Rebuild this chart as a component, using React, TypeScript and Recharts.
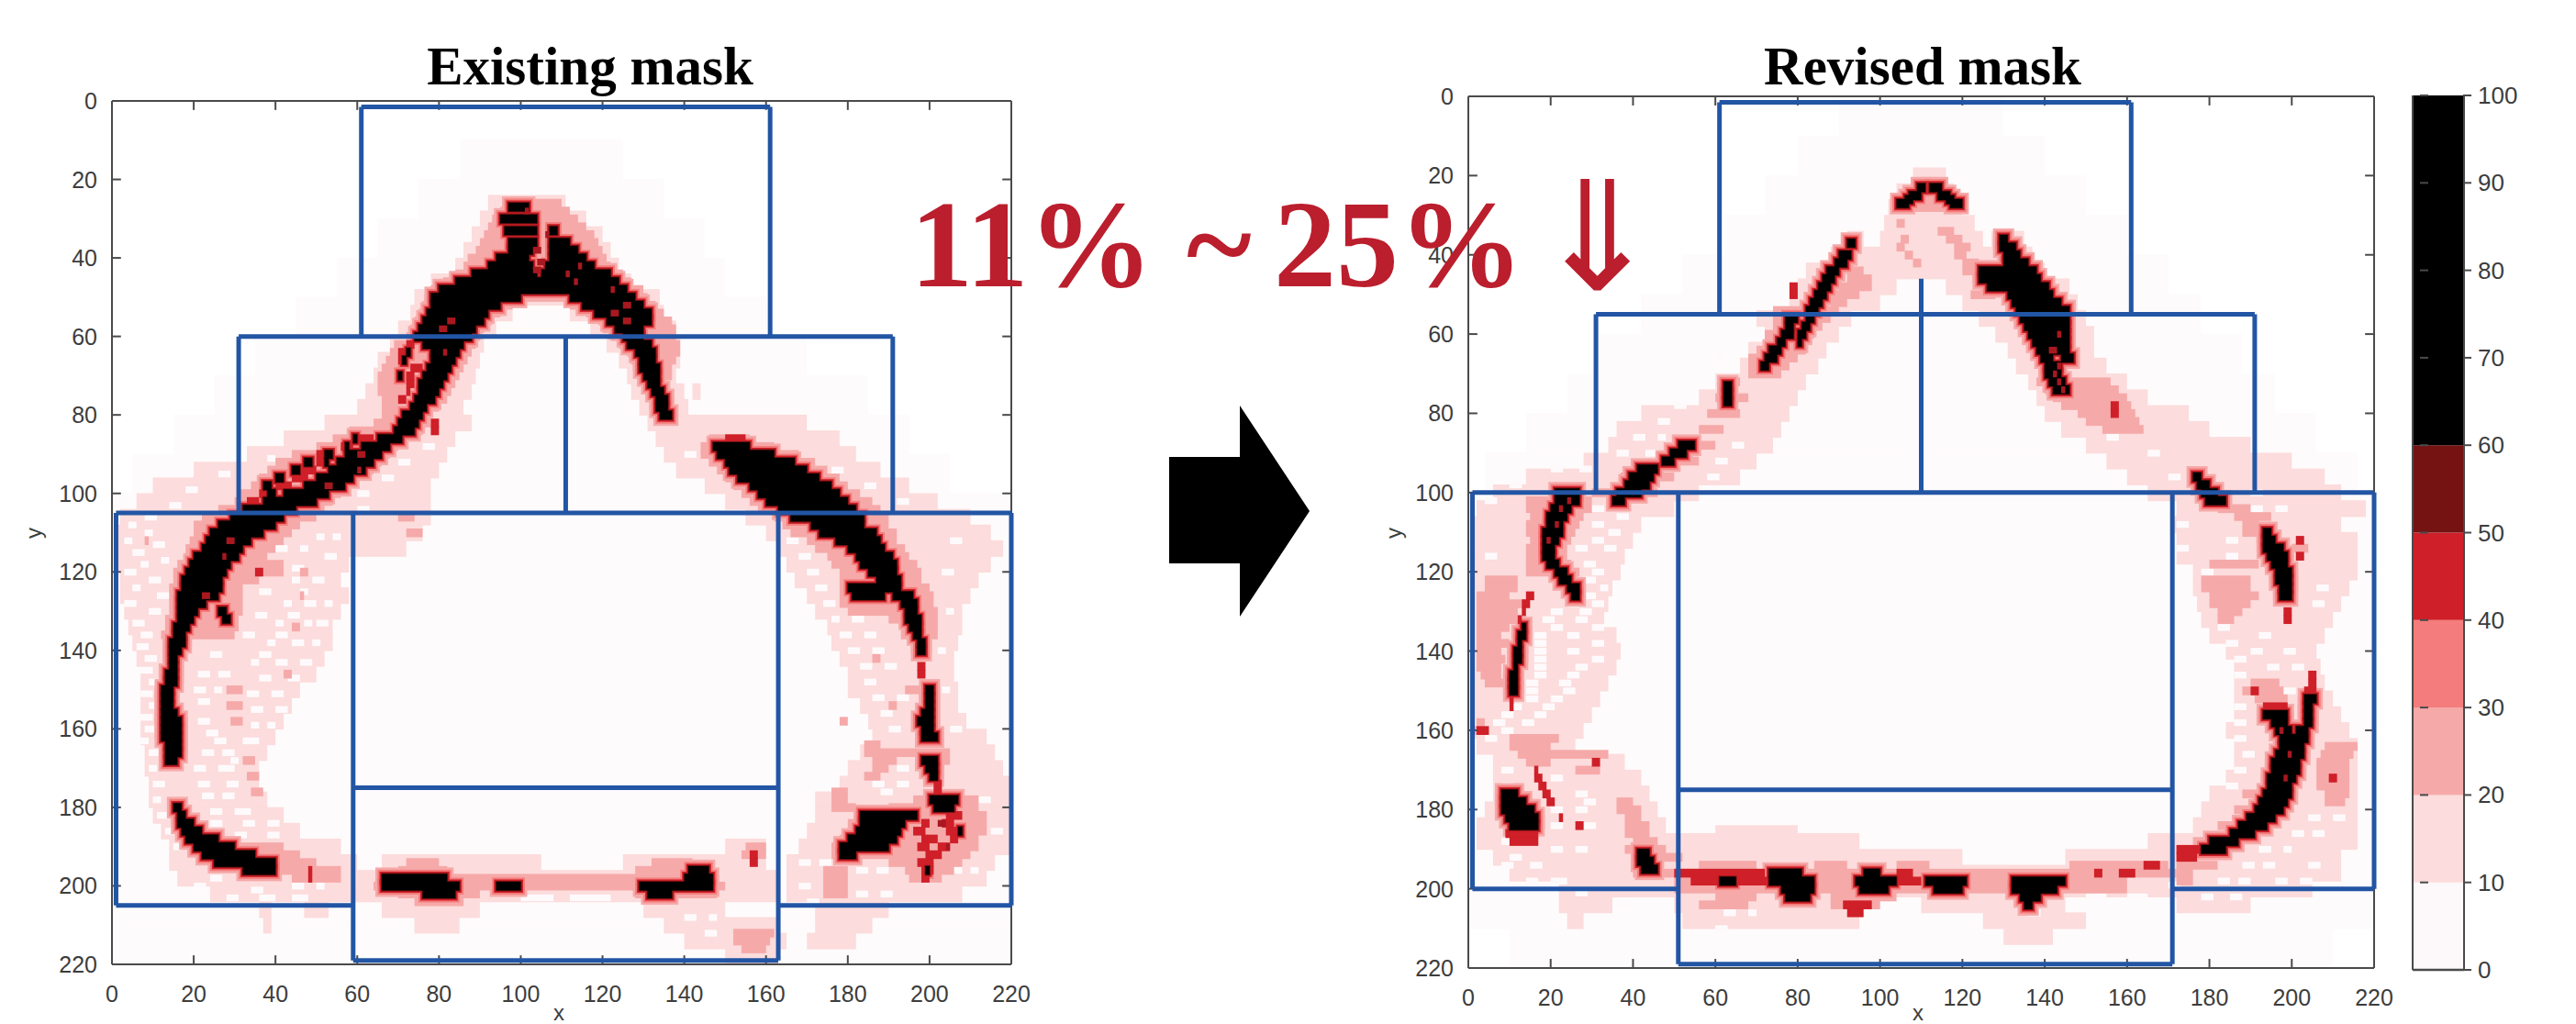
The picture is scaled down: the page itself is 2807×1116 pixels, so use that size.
import React from 'react';
import { ScatterChart, Scatter, XAxis, YAxis, BarChart, Bar } from 'recharts';

type Row = [number, number, number];
type Seg = [number, number, number, number];

const axisTicks = [0, 20, 40, 60, 80, 100, 120, 140, 160, 180, 200, 220];
const colorTicks = [0, 10, 20, 30, 40, 50, 60, 70, 80, 90, 100];
const colorBandValues = [10, 10, 10, 10, 10, 10, 40];
const colorBandFills = ['#FDF8FA', '#FCDCDC', '#F6A9A9', '#F47C7C', '#CF1F28', '#751212', '#000000'];

// every row is [y, xStart, xEnd] in data units
const leftFan: Row[] = [[15, 85, 125], [25, 75, 135], [35, 65, 145], [45, 55, 150], [55, 45, 160], [65, 35, 170], [75, 25, 185], [85, 15, 195], [95, 5, 205], [105, 0, 220], [115, 0, 220], [125, 0, 220], [135, 0, 220], [145, 0, 220], [155, 0, 220], [165, 0, 220], [175, 0, 220], [185, 0, 220], [195, 0, 220], [205, 0, 220], [215, 0, 220]];
const rightFan: Row[] = [[5, 90, 130], [15, 80, 140], [25, 72, 150], [35, 62, 160], [45, 52, 170], [55, 42, 178], [65, 32, 188], [75, 24, 196], [85, 14, 206], [95, 4, 216], [105, 0, 220], [115, 0, 220], [125, 0, 220], [135, 0, 220], [145, 0, 220], [155, 0, 220], [165, 0, 220], [175, 0, 220], [185, 0, 220], [195, 0, 220], [205, 0, 220], [215, 10, 210]];

const leftLight: Row[] = [
  [26, 92, 111], [30, 90, 116], [34, 88, 120], [38, 86, 122], [42, 84, 124], [46, 78, 127], [50, 74, 134],
  [54, 73, 98], [54, 112, 135], [58, 70, 94], [58, 117, 138], [62, 68, 91], [62, 121, 139], [66, 65, 90], [66, 124, 139],
  [70, 64, 89], [70, 126, 138], [74, 62, 88], [74, 127, 140], [74, 142, 144], [78, 60, 86], [78, 129, 141],
  [82, 52, 88], [82, 131, 170], [86, 42, 84], [86, 133, 178], [90, 33, 82], [90, 135, 182], [94, 20, 80], [94, 138, 188],
  [98, 10, 78], [98, 145, 195], [102, 6, 78], [102, 150, 202], [106, 2, 78], [106, 155, 210], [110, 1, 76], [110, 160, 215],
  [114, 1, 72], [114, 163, 218], [118, 1, 58], [118, 165, 215], [122, 2, 56], [122, 167, 212], [126, 2, 58], [126, 170, 210],
  [130, 3, 56], [130, 172, 208], [134, 4, 54], [134, 175, 208], [138, 5, 54], [138, 176, 207], [142, 6, 52], [142, 178, 206],
  [146, 7, 50], [146, 180, 206], [150, 7, 46], [150, 180, 207], [154, 7, 44], [154, 183, 207], [158, 7, 42], [158, 185, 209],
  [162, 7, 40], [162, 186, 214], [166, 8, 38], [166, 183, 216], [170, 8, 36], [170, 180, 218], [174, 9, 36], [174, 178, 220],
  [178, 9, 38], [178, 172, 220], [182, 10, 42], [182, 172, 220], [186, 12, 46], [186, 170, 220], [190, 14, 56], [190, 168, 220], [190, 150, 160],
  [194, 14, 60], [194, 66, 105], [194, 125, 160], [194, 165, 216], [198, 16, 60], [198, 60, 163], [198, 165, 214],
  [202, 24, 163], [202, 165, 208], [206, 36, 39], [206, 47, 53], [206, 66, 90], [206, 130, 150], [206, 172, 190],
  [210, 37, 39], [210, 74, 85], [210, 135, 163], [210, 172, 186], [214, 140, 165], [214, 170, 182], [218, 150, 163],
];
const leftHoles: Row[] = [
  [108, 4, 6], [110, 8, 10], [112, 3, 5], [113, 10, 13], [115, 5, 8], [117, 12, 14], [118, 7, 9], [120, 3, 6], [122, 9, 12], [124, 5, 7], [126, 11, 14], [128, 3, 6], [130, 9, 12], [133, 5, 8], [136, 7, 10], [139, 6, 9], [142, 8, 11], [145, 7, 10], [148, 9, 12], [151, 7, 10], [154, 9, 11], [157, 7, 10], [160, 8, 11], [163, 7, 9], [166, 9, 12], [170, 9, 11], [174, 10, 13], [178, 10, 12], [182, 11, 14], [186, 13, 15], [190, 15, 17],
  [122, 44, 46], [122, 49, 52], [125, 36, 39], [125, 46, 48], [128, 42, 44], [128, 47, 50], [128, 52, 54], [131, 35, 38], [131, 43, 46], [133, 40, 42], [133, 47, 49], [133, 50, 53], [136, 32, 35], [136, 40, 43], [138, 38, 40], [138, 44, 47], [138, 49, 51], [141, 24, 27], [141, 36, 39], [143, 34, 36], [143, 40, 43], [143, 46, 49], [146, 21, 24], [146, 26, 29], [147, 36, 39], [147, 43, 46], [150, 20, 23], [150, 25, 27], [151, 33, 36], [151, 39, 42], [153, 21, 24], [155, 34, 37], [155, 40, 43], [158, 21, 24], [159, 34, 36], [159, 38, 40], [161, 23, 26], [163, 25, 28], [163, 32, 36], [166, 22, 25], [166, 27, 30], [168, 29, 31], [170, 20, 23], [170, 26, 30], [174, 21, 24], [174, 28, 31], [177, 22, 25], [177, 27, 30], [181, 24, 27], [181, 30, 34], [184, 24, 27], [184, 32, 35], [184, 38, 41], [187, 30, 33], [187, 38, 41],
  [111, 50, 52], [111, 54, 56], [114, 40, 43], [114, 46, 48], [116, 52, 55], [119, 44, 47], [104, 60, 63], [100, 60, 63], [96, 66, 69], [92, 70, 73], [88, 76, 79], [106, 8, 11], [103, 14, 17], [99, 18, 21], [95, 26, 29], [91, 38, 40],
  [112, 165, 168], [116, 168, 171], [120, 170, 173], [124, 172, 175], [128, 174, 177], [132, 176, 178], [132, 181, 184], [136, 178, 181], [136, 184, 187], [140, 180, 183], [140, 186, 189], [144, 183, 186], [144, 189, 192], [148, 184, 187], [152, 186, 189], [152, 192, 195], [156, 188, 191], [160, 190, 193], [174, 186, 189], [174, 192, 195], [170, 192, 195], [176, 188, 191],
  [194, 168, 171], [194, 173, 176], [196, 182, 185], [196, 187, 190], [200, 168, 171], [202, 182, 185], [202, 188, 191], [204, 170, 173], [160, 205, 208], [150, 203, 205], [140, 202, 204], [130, 204, 206], [120, 203, 206], [112, 205, 208], [186, 215, 218], [178, 212, 215], [196, 205, 208], [196, 210, 212], [200, 20, 23], [201, 34, 37], [198, 24, 27], [200, 44, 47], [200, 50, 52], [203, 28, 31], [203, 36, 40], [203, 44, 48],
  [203, 100, 108], [203, 112, 122], [208, 140, 143], [208, 146, 148], [212, 145, 148], [90, 140, 143], [94, 176, 179], [98, 184, 187], [102, 192, 195],
];
const leftPink: Row[] = [
  [26, 97, 110], [28, 95, 112], [30, 93, 114], [32, 92, 116], [34, 91, 118], [36, 90, 119], [38, 89, 120], [40, 87, 121],
  [42, 86, 122], [44, 84, 125], [46, 81, 127], [48, 78, 130], [50, 77, 131], [52, 76, 98], [52, 112, 133], [54, 75, 95], [54, 116, 135],
  [56, 74, 93], [56, 119, 137], [58, 73, 91], [58, 120, 138], [60, 72, 90], [60, 122, 138], [62, 69, 89], [62, 124, 139],
  [64, 68, 88], [64, 126, 139], [66, 67, 87], [66, 127, 138], [68, 66, 86], [68, 128, 137], [70, 65, 85], [70, 130, 137],
  [72, 65, 84], [74, 65, 83], [76, 66, 82], [78, 66, 80], [80, 66, 78], [82, 64, 78], [84, 58, 76], [86, 54, 72], [86, 146, 156],
  [88, 50, 70], [88, 144, 162], [90, 44, 68], [90, 144, 168], [92, 40, 66], [92, 146, 172], [94, 38, 64], [94, 148, 175],
  [96, 36, 60], [96, 150, 178], [98, 34, 58], [98, 152, 180], [100, 31, 56], [100, 154, 183], [102, 30, 54], [102, 156, 186],
  [104, 26, 52], [104, 158, 188], [106, 22, 50], [106, 162, 190], [106, 70, 74], [110, 72, 76], [108, 20, 46], [108, 164, 190],
  [110, 20, 44], [110, 166, 192], [112, 19, 42], [112, 170, 192], [114, 18, 40], [114, 172, 194], [116, 18, 38], [116, 175, 195],
  [118, 16, 42], [118, 176, 197], [120, 15, 42], [120, 178, 198], [122, 15, 36], [122, 178, 198], [124, 14, 32], [124, 178, 200],
  [126, 14, 32], [126, 178, 201], [128, 14, 32], [128, 178, 201], [130, 14, 32], [130, 180, 202], [132, 13, 31], [132, 190, 202],
  [134, 13, 31], [134, 193, 202], [136, 12, 30], [136, 193, 202], [150, 28, 32], [154, 28, 32], [158, 29, 32], [168, 32, 35], [172, 33, 36], [176, 34, 37],
  [164, 184, 188], [166, 184, 205], [168, 186, 192], [168, 198, 205], [170, 186, 190], [172, 184, 188], [176, 176, 180],
  [178, 176, 180], [178, 196, 212], [180, 176, 182], [180, 190, 212], [182, 190, 214], [184, 180, 214], [186, 180, 214],
  [188, 178, 212], [190, 176, 212], [192, 176, 210], [194, 190, 208], [196, 194, 206], [198, 195, 203], [196, 174, 180], [198, 174, 180], [200, 174, 180], [202, 174, 180],
  [190, 28, 42], [192, 30, 46], [194, 32, 50], [196, 34, 56], [198, 44, 56],
  [190, 155, 160], [192, 154, 160], [194, 72, 80], [194, 132, 142], [196, 70, 82], [196, 128, 142],
  [198, 68, 148], [200, 64, 150], [202, 70, 90], [202, 128, 148], [204, 74, 86], [212, 152, 162], [214, 152, 161], [216, 154, 160],
  [112, 8, 9], [126, 46, 47], [134, 44, 46], [146, 42, 44], [158, 178, 180], [142, 186, 188], [150, 194, 198], [154, 190, 192], [120, 46, 48],
];
const leftRed: Row[] = [
  [62, 72, 74], [64, 70, 73], [66, 70, 72], [68, 73, 76], [70, 72, 74], [72, 72, 74], [74, 72, 73], [76, 70, 72],
  [82, 78, 80], [84, 78, 80], [86, 60, 64], [88, 56, 59], [90, 50, 54], [92, 50, 53], [94, 46, 50], [96, 44, 48], [98, 40, 44], [100, 36, 40], [102, 33, 36],
  [86, 150, 155], [88, 149, 153], [120, 35, 37], [180, 202, 204], [182, 204, 208], [184, 198, 200], [184, 203, 206], [186, 196, 199], [186, 204, 208],
  [188, 198, 202], [188, 205, 207], [190, 197, 200], [190, 202, 205], [192, 199, 203], [194, 197, 201], [196, 198, 201], [198, 198, 200], [192, 156, 158], [194, 156, 158], [196, 48, 49], [198, 48, 49],
  [146, 197, 199], [144, 197, 199], [176, 201, 203], [174, 201, 203],
];
const leftBlack: Row[] = [
  [27, 97, 102], [30, 95, 104], [33, 96, 104], [33, 107, 109], [36, 97, 104], [36, 107, 112], [38, 97, 103], [38, 107, 114], [40, 94, 102], [40, 107, 116],
  [42, 92, 103], [42, 106, 118], [44, 88, 104], [44, 105, 122], [46, 84, 124], [48, 80, 126], [50, 78, 100], [50, 112, 128],
  [52, 78, 95], [52, 115, 130], [54, 77, 92], [54, 118, 132], [56, 76, 91], [56, 121, 132], [58, 75, 89], [58, 123, 130], [60, 74, 88], [60, 125, 130],
  [62, 76, 86], [62, 126, 132], [64, 78, 85], [64, 128, 133], [66, 78, 84], [66, 129, 133], [68, 77, 83], [68, 129, 134], [70, 76, 82], [70, 130, 134],
  [72, 75, 81], [72, 131, 134], [74, 75, 80], [74, 132, 135], [76, 74, 79], [76, 133, 136], [78, 73, 77], [78, 133, 136], [80, 71, 76], [80, 134, 137],
  [82, 70, 75], [84, 69, 74], [86, 65, 71], [88, 61, 68], [90, 57, 66], [92, 55, 64], [94, 53, 62], [96, 50, 59], [98, 47, 57], [100, 42, 53], [102, 37, 50], [104, 32, 45], [106, 29, 42],
  [66, 71, 72], [64, 72, 73], [70, 70, 71], [88, 57, 58], [90, 52, 54], [92, 47, 49], [94, 44, 46], [96, 40, 42], [98, 37, 39], [100, 38, 40], [86, 59, 60], [92, 52, 53],
  [108, 26, 40], [110, 24, 37], [112, 23, 34], [114, 22, 32], [116, 20, 31], [118, 19, 29], [120, 18, 28], [122, 17, 27], [124, 17, 27], [126, 16, 26], [128, 16, 23], [130, 16, 21], [130, 26, 28], [132, 16, 20], [132, 27, 29], [134, 15, 19], [136, 15, 18], [138, 14, 18],
  [140, 14, 17], [142, 14, 16], [144, 14, 16], [146, 13, 16], [148, 13, 16], [150, 12, 15], [152, 12, 15], [154, 12, 15], [156, 12, 16], [158, 12, 17], [160, 12, 17], [162, 12, 17], [164, 13, 17], [166, 13, 17], [168, 13, 16],
  [180, 15, 17], [182, 16, 18], [184, 16, 20], [186, 17, 22], [188, 18, 26], [190, 20, 30], [192, 22, 35], [194, 25, 40], [196, 32, 40],
  [106, 166, 184], [108, 171, 184], [110, 173, 187], [112, 177, 188], [114, 180, 189], [116, 182, 191], [118, 183, 192], [120, 185, 192], [122, 187, 193], [124, 180, 193], [126, 181, 189], [126, 191, 196], [128, 193, 197], [130, 194, 197], [132, 194, 198], [134, 195, 198], [136, 196, 198], [138, 197, 199], [140, 197, 199],
  [88, 147, 156], [90, 148, 162], [92, 150, 167], [94, 151, 170], [96, 153, 173], [98, 156, 176], [100, 158, 178], [102, 160, 180], [104, 163, 182],
  [150, 199, 201], [152, 199, 201], [154, 199, 201], [156, 198, 201], [158, 197, 201], [160, 198, 201], [162, 198, 202], [168, 198, 202], [170, 199, 202], [172, 200, 202], [178, 200, 207], [180, 201, 206],
  [182, 183, 197], [184, 183, 194], [186, 182, 193], [188, 180, 192], [190, 178, 190], [192, 178, 182], [186, 207, 208], [196, 199, 200],
  [196, 141, 146], [198, 66, 82], [198, 140, 147], [200, 66, 85], [200, 94, 100], [200, 129, 147], [202, 76, 84], [202, 131, 137],
];
// red flecks that sit on top of the black band
const leftFlecks: Row[] = [
  [34, 106, 107], [38, 103, 105], [41, 104, 106], [43, 103, 105], [44, 111, 112], [46, 113, 114], [48, 122, 123], [54, 122, 124], [52, 125, 127], [56, 125, 127], [58, 80, 82], [56, 82, 84], [64, 81, 82], [42, 114, 115], [28, 101, 102],
  [98, 52, 54], [94, 60, 61], [90, 60, 62], [112, 28, 30], [116, 27, 28], [126, 22, 24], [184, 202, 204], [190, 204, 205],
];

const rightLight: Row[] = [
  [20, 108, 116], [24, 104, 118], [28, 102, 120], [32, 101, 123], [36, 92, 96], [36, 100, 125], [36, 127, 135], [40, 88, 137], [44, 82, 140],
  [48, 80, 104], [48, 116, 146], [52, 78, 100], [52, 120, 148], [56, 70, 93], [56, 124, 150], [60, 72, 90], [60, 128, 152], [64, 68, 87], [64, 131, 152],
  [68, 66, 85], [68, 133, 155], [72, 60, 82], [72, 136, 160], [76, 56, 80], [76, 138, 165], [80, 42, 78], [80, 140, 175], [84, 36, 76], [84, 144, 180],
  [88, 34, 74], [88, 150, 190], [92, 28, 70], [92, 155, 200], [96, 14, 66], [96, 160, 208], [100, 6, 56], [100, 165, 212], [104, 2, 50], [104, 172, 218],
  [108, 1, 42], [108, 171, 212], [112, 1, 40], [112, 172, 216], [116, 1, 38], [116, 172, 216], [120, 1, 37], [120, 176, 216], [124, 1, 35], [124, 176, 214],
  [128, 1, 34], [128, 177, 212], [132, 1, 33], [132, 178, 210], [136, 1, 36], [136, 180, 208], [140, 1, 37], [140, 184, 206], [144, 1, 36], [144, 186, 207],
  [148, 1, 34], [148, 186, 208], [152, 1, 32], [152, 186, 210], [156, 1, 30], [156, 186, 212], [160, 1, 28], [160, 184, 214], [164, 2, 26], [164, 186, 216],
  [168, 6, 38], [168, 186, 216], [172, 6, 42], [172, 184, 216], [176, 6, 44], [176, 180, 216], [180, 4, 46], [180, 178, 216], [184, 2, 48], [184, 176, 216],
  [186, 60, 80], [188, 2, 52], [188, 52, 95], [188, 165, 216], [192, 6, 120], [192, 145, 212], [196, 10, 212], [200, 22, 205], [204, 22, 35], [204, 50, 95], [204, 110, 145],
  [204, 172, 190], [208, 24, 28], [208, 52, 95], [208, 125, 150], [212, 130, 142],
];
const rightHoles: Row[] = [
  [66, 60, 62], [78, 50, 53], [82, 46, 49], [86, 40, 43], [86, 46, 48], [90, 36, 39], [90, 43, 46], [94, 20, 23], [94, 27, 30], [96, 58, 61], [92, 60, 63], [88, 64, 67], [98, 10, 13], [102, 4, 7], [104, 30, 33], [106, 36, 39], [108, 30, 33], [110, 34, 37], [112, 30, 33], [114, 26, 29], [114, 33, 36],
  [116, 4, 7], [118, 28, 31], [120, 30, 33], [122, 28, 31], [124, 32, 34], [126, 28, 31], [128, 24, 27], [128, 30, 33], [130, 20, 23], [130, 27, 30], [132, 18, 21], [132, 26, 29], [134, 20, 23], [134, 30, 33], [136, 16, 19], [136, 24, 27], [138, 16, 19], [138, 30, 33], [140, 16, 19], [140, 24, 27], [142, 16, 19], [142, 30, 33], [144, 16, 19], [144, 26, 29], [146, 16, 19], [146, 24, 27], [148, 14, 17], [148, 22, 25], [150, 14, 17], [150, 23, 26], [152, 14, 17], [152, 20, 23], [154, 10, 13], [154, 18, 21], [156, 8, 11], [156, 16, 19], [158, 6, 9], [158, 13, 16], [160, 8, 11], [162, 4, 7],
  [170, 8, 11], [172, 20, 23], [174, 8, 11], [176, 26, 29], [178, 28, 31], [180, 20, 23], [180, 26, 29], [184, 20, 23], [184, 28, 31], [188, 8, 11], [190, 20, 23], [190, 26, 29], [192, 10, 13], [194, 8, 11], [194, 15, 18], [198, 14, 17], [198, 20, 24], [201, 26, 29], [204, 36, 39],
  [108, 172, 175], [112, 184, 187], [114, 172, 175], [116, 184, 187], [120, 178, 181], [124, 206, 209], [128, 205, 208], [134, 182, 185], [136, 192, 195], [138, 184, 187], [140, 190, 193], [140, 198, 201], [142, 186, 189], [144, 194, 197], [144, 200, 203], [146, 186, 189], [150, 198, 201], [154, 186, 189], [158, 186, 189], [162, 186, 189], [166, 188, 191], [170, 186, 189], [174, 184, 187], [178, 210, 213], [182, 204, 207], [182, 210, 213], [186, 200, 203], [186, 205, 208], [190, 192, 195], [190, 198, 200], [194, 188, 191], [194, 193, 196], [198, 182, 185], [198, 187, 190], [202, 178, 181], [202, 185, 188], [198, 196, 199], [198, 202, 205], [194, 204, 207],
  [202, 150, 155], [202, 160, 165], [199, 170, 173], [206, 62, 65], [206, 68, 70], [206, 136, 139], [210, 60, 63], [100, 190, 193], [104, 190, 193], [104, 196, 199], [96, 170, 173], [90, 165, 168], [86, 155, 158],
];
const rightPink: Row[] = [
  [22, 108, 116], [24, 106, 118], [26, 105, 119], [28, 104, 120], [32, 104, 106], [36, 105, 107], [38, 104, 106], [40, 106, 108], [34, 114, 118], [36, 116, 120], [38, 118, 122], [40, 118, 121], [42, 108, 110], [42, 120, 124], [44, 92, 96], [44, 120, 125], [46, 92, 98], [48, 90, 98], [50, 88, 95], [50, 122, 128], [52, 88, 92], [54, 74, 90],
  [56, 74, 88], [58, 74, 86], [60, 72, 84], [62, 72, 82], [64, 70, 82], [66, 68, 80], [68, 68, 78], [70, 68, 76], [72, 138, 156], [74, 140, 158], [76, 142, 160], [78, 144, 161], [80, 148, 162], [82, 150, 163], [84, 154, 164],
  [72, 62, 66], [76, 60, 68], [80, 58, 66], [84, 56, 62], [88, 52, 60], [92, 46, 56], [96, 37, 50], [100, 30, 46], [102, 14, 30], [104, 14, 30], [106, 15, 28], [108, 14, 27], [110, 14, 26], [112, 15, 25], [114, 14, 24], [116, 14, 24],
  [118, 14, 25], [120, 14, 27], [122, 4, 12], [124, 4, 12], [126, 2, 10], [128, 2, 14], [130, 2, 12], [132, 2, 12], [134, 2, 10], [136, 2, 8], [138, 2, 10], [140, 2, 8], [142, 2, 9], [144, 2, 8], [146, 3, 8], [148, 4, 9],
  [104, 182, 190], [106, 186, 195], [108, 188, 192], [110, 188, 192], [114, 200, 204], [118, 180, 192], [122, 178, 190], [124, 178, 190], [126, 180, 192], [128, 180, 190], [130, 182, 188], [132, 182, 186],
  [158, 2, 4], [160, 1, 4], [162, 10, 22], [164, 10, 20], [166, 12, 34], [168, 14, 20], [170, 26, 32], [178, 36, 40], [180, 36, 42], [182, 38, 42], [184, 38, 44], [186, 38, 44], [188, 40, 46], [190, 38, 48], [192, 42, 52],
  [164, 208, 216], [166, 207, 215], [168, 206, 214], [170, 206, 214], [172, 206, 214], [174, 206, 214], [176, 208, 214], [178, 208, 213],
  [148, 190, 197], [150, 188, 198], [152, 191, 199], [194, 56, 70], [194, 84, 92], [194, 104, 112], [194, 146, 170], [196, 40, 60], [196, 60, 172], [198, 50, 160], [200, 50, 160], [202, 60, 70], [202, 88, 104], [204, 56, 68], [204, 88, 100],
  [194, 172, 182], [196, 172, 176], [198, 172, 176], [176, 188, 192], [180, 186, 190], [184, 182, 187], [188, 176, 182], [190, 172, 178], [192, 172, 176],
];
const rightRed: Row[] = [
  [126, 14, 16], [128, 13, 15], [130, 13, 14], [132, 12, 13], [152, 10, 11], [154, 10, 11], [160, 2, 5], [168, 30, 32], [170, 16, 17], [172, 16, 18], [174, 17, 19], [176, 18, 20], [178, 19, 21], [182, 22, 23], [184, 26, 28],
  [186, 9, 17], [188, 10, 17], [190, 172, 178], [192, 172, 177], [196, 152, 154], [196, 158, 162], [194, 164, 168], [196, 50, 72], [198, 54, 73], [198, 104, 110], [196, 104, 108], [204, 91, 98], [206, 92, 96],
  [146, 204, 206], [148, 204, 206], [150, 203, 206], [150, 190, 192], [154, 193, 199], [172, 209, 211], [112, 201, 203], [116, 201, 203], [130, 198, 200], [132, 198, 200], [78, 156, 158], [80, 156, 158], [50, 78, 80], [48, 78, 80],
];
const rightBlack: Row[] = [
  [23, 109, 111], [23, 112, 115], [25, 107, 110], [25, 114, 117], [26, 106, 108], [26, 116, 118], [27, 104, 107], [27, 117, 120],
  [37, 92, 94], [40, 90, 93], [42, 89, 92], [44, 87, 90], [46, 86, 89], [48, 85, 88], [50, 84, 87], [52, 83, 86], [54, 82, 85],
  [56, 77, 80], [56, 82, 84], [58, 77, 79], [58, 81, 83], [60, 76, 79], [60, 80, 82], [62, 75, 77], [62, 80, 81], [64, 73, 76], [66, 72, 75], [68, 71, 73], [73, 62, 64], [75, 62, 64], [77, 62, 64],
  [36, 129, 131], [38, 129, 133], [40, 130, 134], [42, 130, 136], [44, 124, 138], [46, 124, 139], [48, 126, 141], [50, 131, 142], [52, 132, 144], [54, 133, 146], [56, 134, 146], [58, 135, 146], [60, 136, 146], [62, 137, 146], [64, 138, 146],
  [66, 139, 142], [66, 144, 147], [68, 140, 144], [70, 140, 144], [72, 141, 145], [74, 142, 146],
  [88, 51, 55], [90, 49, 53], [92, 47, 50], [94, 41, 46], [96, 39, 45], [98, 38, 44], [100, 36, 42], [102, 35, 38],
  [96, 176, 178], [98, 177, 180], [100, 178, 182], [102, 179, 184],
  [100, 21, 27], [102, 21, 27], [104, 20, 25], [106, 19, 24], [108, 19, 23], [110, 18, 23], [112, 18, 22], [114, 18, 21], [116, 18, 21], [118, 19, 22], [120, 21, 24], [122, 22, 25], [124, 24, 27], [126, 25, 27],
  [134, 13, 14], [136, 12, 14], [138, 12, 13], [140, 11, 13], [142, 11, 13], [144, 11, 12], [146, 10, 12], [148, 10, 12], [150, 10, 12],
  [176, 8, 12], [178, 8, 14], [180, 8, 16], [182, 9, 17], [184, 10, 17],
  [110, 193, 195], [112, 193, 196], [114, 193, 198], [116, 194, 199], [118, 195, 199], [120, 196, 200], [122, 196, 200], [124, 197, 200], [126, 197, 200],
  [152, 203, 206], [154, 203, 205], [156, 193, 199], [156, 203, 205], [158, 195, 199], [158, 203, 205], [160, 196, 200], [160, 201, 204], [162, 197, 204], [164, 197, 203], [166, 196, 203], [168, 195, 202], [170, 195, 202], [172, 194, 201], [174, 194, 200], [176, 193, 200], [178, 192, 199], [180, 191, 198], [182, 189, 196], [184, 187, 194], [186, 185, 191], [188, 180, 187], [190, 178, 184],
  [191, 41, 44], [193, 41, 45], [195, 42, 46], [196, 73, 81], [196, 96, 100], [198, 61, 65], [198, 73, 84], [198, 94, 104], [198, 111, 121], [198, 132, 145], [200, 76, 84], [200, 95, 102], [200, 113, 120], [200, 132, 143], [202, 77, 83], [202, 134, 139], [204, 135, 137],
];
const rightFlecks: Row[] = [
  [104, 22, 23], [108, 21, 22], [112, 19, 20], [102, 24, 25], [68, 143, 144], [70, 142, 143], [72, 143, 144], [74, 144, 145], [166, 199, 200], [160, 197, 198], [172, 198, 199], [64, 141, 143], [60, 143, 144],
];

const leftBoxes: Seg[] = [
  [61, 1.5, 161, 1.5], [61, 1.5, 61, 60], [161, 1.5, 161, 60], [31, 60, 191, 60], [31, 60, 31, 105], [191, 60, 191, 105], [111, 60, 111, 105],
  [1, 105, 220, 105], [1, 105, 1, 205], [220, 105, 220, 205], [1, 205, 59, 205], [163, 205, 220, 205], [59, 105, 59, 219], [163, 105, 163, 219], [59, 219, 163, 219], [59, 175, 163, 175],
];
const rightBoxes: Seg[] = [
  [61, 1.5, 161, 1.5], [61, 1.5, 61, 55], [161, 1.5, 161, 55], [31, 55, 191, 55], [31, 55, 31, 100], [191, 55, 191, 100], [110, 46, 110, 100],
  [1, 100, 220, 100], [1, 100, 1, 200], [220, 100, 220, 200], [1, 200, 51, 200], [171, 200, 220, 200], [51, 100, 51, 219], [171, 100, 171, 219], [51, 219, 171, 219], [51, 175, 171, 175],
];

const frameEdges: Seg[] = [[0, 0, 220, 0], [0, 220, 220, 220], [0, 0, 0, 220], [220, 0, 220, 220]];

const tickFont = { fontFamily: '"Liberation Sans", Arial, sans-serif', fontSize: 25, fill: '#3d3d3d' };
const axisGray = '#4a4a4a';

// the axes only carry the labels, the frame and tick marks are drawn above the cells
const bottomTick = ({ x, y, payload }: any) => <text x={x} y={y + 33} textAnchor="middle" {...tickFont}>{payload.value}</text>;
const leftTick = ({ x, y, payload }: any) => <text x={x - 8} y={y + 9} textAnchor="end" {...tickFont}>{payload.value}</text>;

const cellShape = (ux: number, uy: number, fill: string, halo = 0) => ({ cx, cy, payload }: any) => (
  <rect
    x={cx - (payload.w * ux) / 2}
    y={cy - (payload.h * uy) / 2}
    width={payload.w * ux}
    height={payload.h * uy + 0.5}
    fill={fill}
    stroke={halo ? fill : 'none'}
    strokeWidth={halo}
  />
);
const noPoint = () => <g />;

const toCells = (rows: Row[], h: number) => rows.map(([y, x0, x1]) => ({ x: (x0 + x1) / 2, y, w: x1 - x0, h }));

const tickSegs: Seg[] = axisTicks.flatMap((t) => [
  [t, 0, t, 2.3],
  [t, 220, t, 217.7],
  [0, t, 2.2, t],
  [220, t, 217.8, t],
] as Seg[]);

interface MaskPlotProps {
  left: number;
  plotLeft: number;
  plotRight: number;
  plotTop: number;
  plotBottom: number;
  fan: Row[];
  light: Row[];
  holes: Row[];
  pink: Row[];
  red: Row[];
  black: Row[];
  flecks: Row[];
  boxes: Seg[];
}

function MaskPlot({ left, plotLeft, plotRight, plotTop, plotBottom, fan, light, holes, pink, red, black, flecks, boxes }: MaskPlotProps) {
  const width = plotRight - left + 60;
  const ux = (plotRight - plotLeft) / 220;
  const uy = (plotBottom - plotTop) / 220;
  const layer = (rows: Row[], h: number, fill: string, halo = 0) => (
    <Scatter data={toCells(rows, h)} isAnimationActive={false} shape={cellShape(ux, uy, fill, halo)} />
  );
  const segments = (segs: Seg[], stroke: string, strokeWidth: number) =>
    segs.map(([x1, y1, x2, y2], i) => (
      <Scatter
        key={`${stroke}-${i}`}
        data={[{ x: x1, y: y1 }, { x: x2, y: y2 }]}
        line={{ stroke, strokeWidth }}
        shape={noPoint}
        isAnimationActive={false}
      />
    ));
  return (
    <div style={{ position: 'absolute', left, top: 0 }}>
      <ScatterChart
        width={width}
        height={1116}
        margin={{ left: 30, right: 60, top: plotTop, bottom: 1116 - plotBottom - 50 }}
      >
        <XAxis type="number" dataKey="x" domain={[0, 220]} ticks={axisTicks} interval={0} height={50} tick={bottomTick} tickLine={false} axisLine={false} />
        <YAxis type="number" dataKey="y" reversed domain={[0, 220]} ticks={axisTicks} interval={0} width={plotLeft - left - 30} tick={leftTick} tickLine={false} axisLine={false} />
        {layer(fan, 10.2, '#FEFBFC')}
        {layer(light, 4.1, '#FCDCDC')}
        {layer(holes, 1.6, '#FEFAFC')}
        {layer(pink, 2.1, '#F6A9A9')}
        {layer(black, 2.1, '#F6A9A9', 14)}
        {layer(black, 2.1, '#F47C7C', 9)}
        {layer(red, 2.1, '#CF1F28')}
        {layer(black, 2.1, '#CF1F28', 5)}
        {layer(black, 2.1, '#751212', 2)}
        {layer(black, 2.1, '#000000')}
        {layer(flecks, 1.6, '#A81820')}
        {segments(frameEdges, axisGray, 2)}
        {segments(tickSegs, axisGray, 2)}
        {segments(boxes, '#2255A4', 5)}
      </ScatterChart>
    </div>
  );
}

const colorRow = [
  colorBandValues.reduce((row: Record<string, any>, v, i) => ({ ...row, [`b${i}`]: v }), { name: 'scale' }),
];

const colorRightTick = ({ x, y, payload }: any) => (
  <g>
    <line x1={x} x2={x - 9} y1={y} y2={y} stroke={axisGray} strokeWidth={2} />
    <line x1={x - 56} x2={x - 47} y1={y} y2={y} stroke={axisGray} strokeWidth={2} />
    <text x={x + 7} y={y + 9} textAnchor="start" {...tickFont} fontSize={26}>{payload.value}</text>
  </g>
);

function ColorBar() {
  return (
    <div style={{ position: 'absolute', left: 2609, top: 0 }}>
      <BarChart width={198} height={1116} data={colorRow} barCategoryGap={0} margin={{ left: 19, right: 0, top: 104, bottom: 58 }}>
        <XAxis dataKey="name" height={1} tick={false} tickLine={false} stroke={axisGray} strokeWidth={2.5} />
        <YAxis yAxisId="edge" orientation="left" domain={[0, 100]} width={1} tick={false} tickLine={false} stroke={axisGray} strokeWidth={2} />
        <YAxis orientation="right" domain={[0, 100]} ticks={colorTicks} interval={0} width={122} tick={colorRightTick} tickLine={false} stroke={axisGray} strokeWidth={2} />
        {colorBandValues.map((_, i) => (
          <Bar key={i} dataKey={`b${i}`} stackId="scale" fill={colorBandFills[i]} isAnimationActive={false} />
        ))}
      </BarChart>
    </div>
  );
}

export default function App() {
  const serif = '"Liberation Serif", "Times New Roman", serif';
  const red = '#BB1E2D';
  return (
    <div style={{ position: 'absolute', left: 0, top: 0, width: 2807, height: 1116, background: '#fff', overflow: 'hidden' }}>
      <MaskPlot left={0} plotLeft={122} plotRight={1102} plotTop={110} plotBottom={1051} fan={leftFan} light={leftLight} holes={leftHoles} pink={leftPink} red={leftRed} black={leftBlack} flecks={leftFlecks} boxes={leftBoxes} />
      <MaskPlot left={1480} plotLeft={1600} plotRight={2587} plotTop={105} plotBottom={1055} fan={rightFan} light={rightLight} holes={rightHoles} pink={rightPink} red={rightRed} black={rightBlack} flecks={rightFlecks} boxes={rightBoxes} />
      <ColorBar />
      <svg width={2807} height={1116} style={{ position: 'absolute', left: 0, top: 0, pointerEvents: 'none' }}>
        <text x={643} y={92} textAnchor="middle" fontFamily={serif} fontWeight="bold" fontSize={59} fill="#000">Existing mask</text>
        <text x={2095} y={92} textAnchor="middle" fontFamily={serif} fontWeight="bold" fontSize={59} fill="#000">Revised mask</text>
        <text x={992} y={312} fontFamily={serif} fontWeight="bold" fontSize={136} fill={red}>11%</text>
        <text x={1293} y={312} fontFamily={serif} fontWeight="bold" fontSize={136} fill={red}>~</text>
        <text x={1388} y={312} fontFamily={serif} fontWeight="bold" fontSize={136} fill={red}>25%</text>
        <text x={1740} y={316} textAnchor="middle" fontFamily={serif} fontSize={166} fill={red}>⇓</text>
        <polygon points="1274,498 1351,498 1351,442 1427,557 1351,672 1351,614 1274,614" fill="#000" />
        <text x={609} y={1112} textAnchor="middle" {...tickFont} fontSize={24}>x</text>
        <text x={2090} y={1112} textAnchor="middle" {...tickFont} fontSize={24}>x</text>
        <text x={0} y={0} transform="translate(45,581) rotate(-90)" textAnchor="middle" {...tickFont} fontSize={24}>y</text>
        <text x={0} y={0} transform="translate(1527,581) rotate(-90)" textAnchor="middle" {...tickFont} fontSize={24}>y</text>
      </svg>
    </div>
  );
}
